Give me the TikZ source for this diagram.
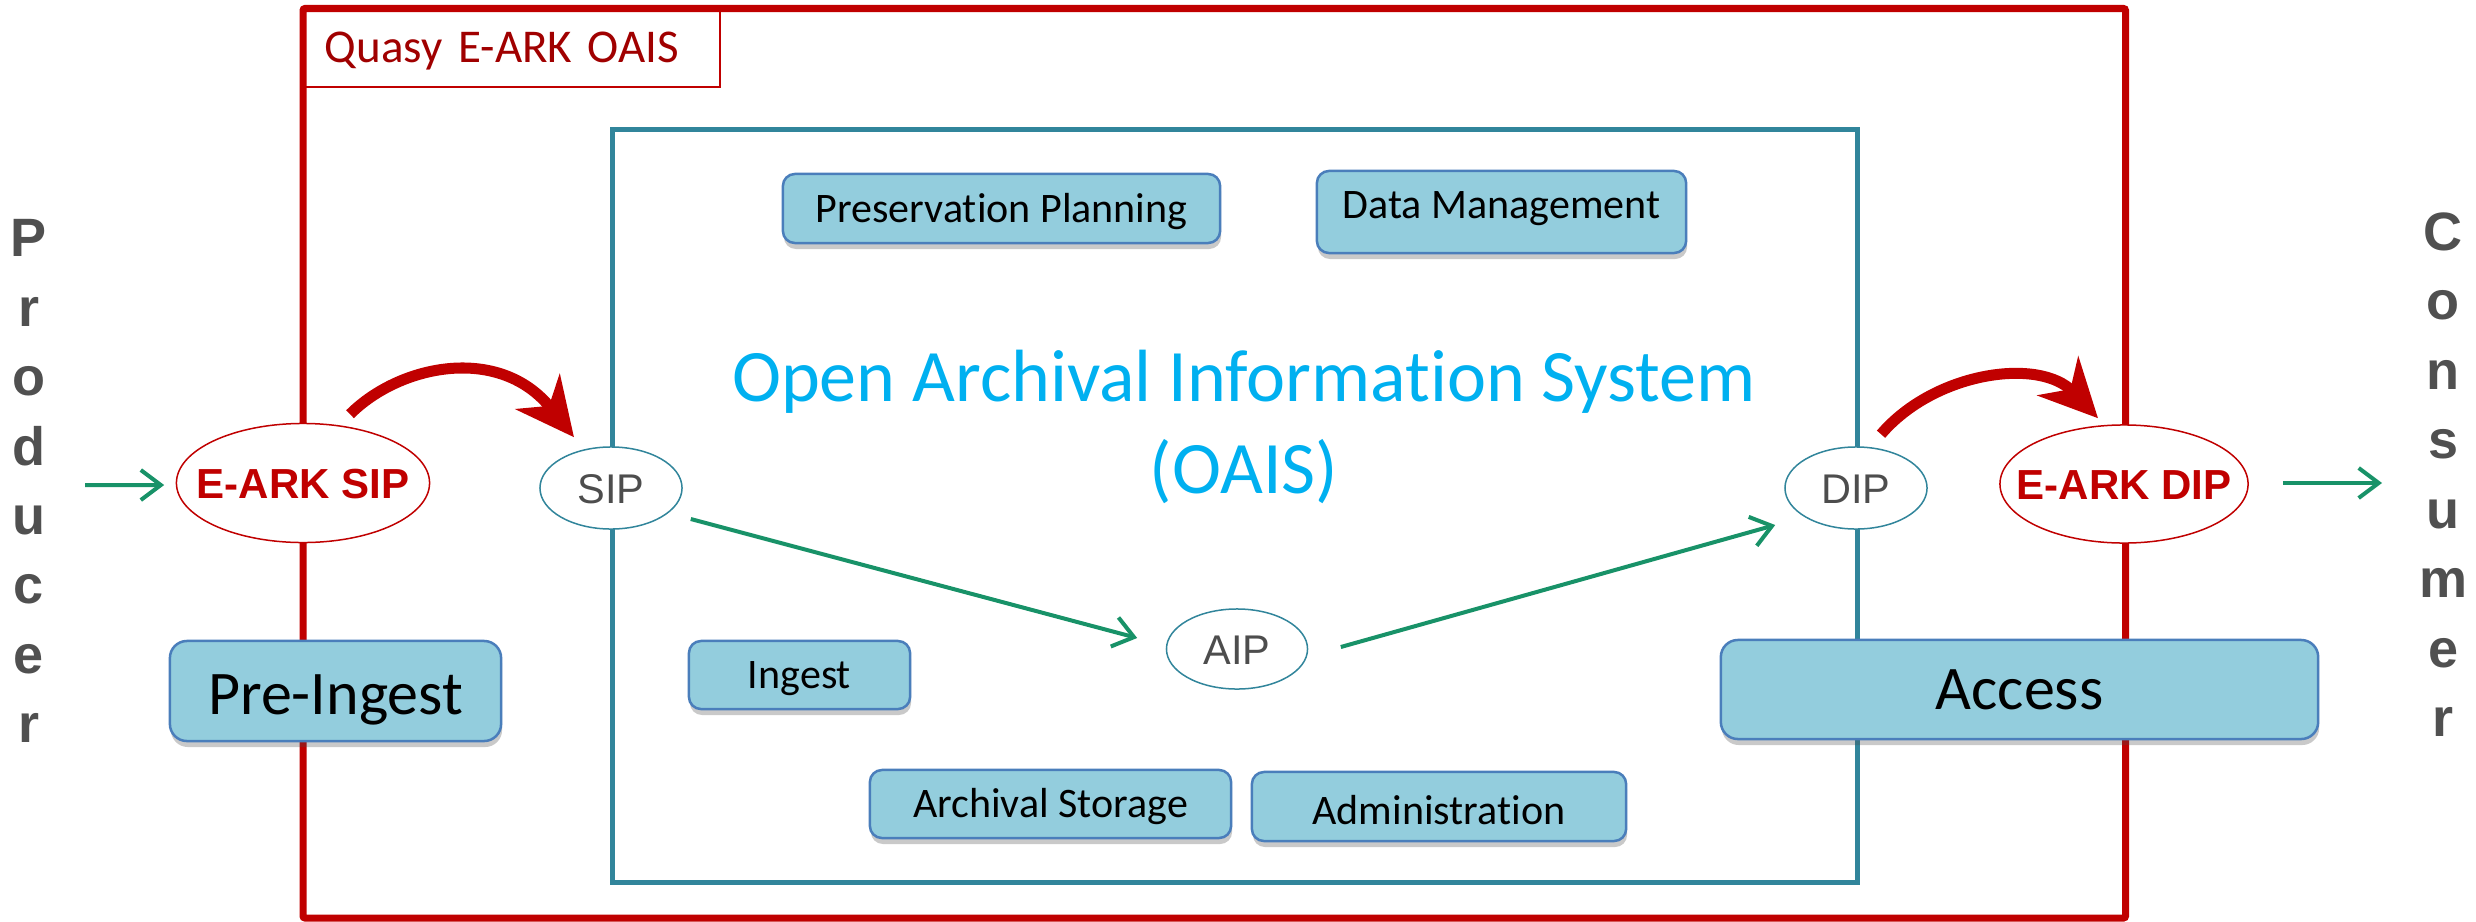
\documentclass[tikz,border=0pt]{standalone}
\usepackage{fontspec}
\setmainfont{Carlito}[Ligatures=NoCommon]
\newfontfamily\arialfont{Liberation Sans}
\usetikzlibrary{shapes.geometric,arrows.meta,shadows}
\definecolor{framered}{RGB}{192,0,0}
\definecolor{labelred}{RGB}{160,0,0}
\definecolor{oaisteal}{RGB}{49,133,155}
\definecolor{flowgreen}{RGB}{24,146,104}
\definecolor{titlecyan}{RGB}{0,176,240}
\definecolor{boxfill}{RGB}{147,205,221}
\definecolor{boxdraw}{RGB}{74,126,187}
\definecolor{pkgtext}{RGB}{77,77,77}
\definecolor{sidetext}{RGB}{80,80,80}
\tikzset{
  fnbox/.style={draw=boxdraw, line width=0.025cm, fill=boxfill, rounded corners=0.12cm, inner sep=0pt,
    drop shadow={shadow xshift=0.01cm, shadow yshift=-0.06cm, opacity=0.3, fill=black!70},
    font=\fontsize{11.95}{14}\selectfont, text=black, text height=0.27cm, text depth=0pt},
  bigbox/.style={fnbox, rounded corners=0.17cm, font=\fontsize{17.64}{21}\selectfont, text height=0.39cm},
  pkg/.style={ellipse, draw=oaisteal, line width=0.015cm, fill=white, inner sep=0pt,
    font=\arialfont\fontsize{11.8}{14}\selectfont, text=pkgtext, text height=0.30cm, text depth=0pt},
  earkpkg/.style={pkg, draw=framered, font=\arialfont\bfseries\fontsize{11.95}{14}\selectfont, text=framered},
  flow/.style={draw=flowgreen, line width=0.04cm, -{Straight Barb[length=0.2cm,width=0.3cm]}},
  convert/.style={draw=framered, line width=0.11cm, -{Stealth[length=0.58cm,width=0.56cm,inset=0.18cm]}},
  sideword/.style={align=center, inner sep=0pt, text=sidetext, font=\arialfont\bfseries\fontsize{15.36}{19.75}\selectfont},
}
\begin{document}
\begin{tikzpicture}[x=0.01cm, y=-0.01cm]
\useasboundingbox (0,0) rectangle (2476,921);
% frames
\draw[framered, line width=0.07cm, rounded corners=0.02cm] (303,8.5) rectangle (2125.5,918);
\draw[oaisteal, line width=0.05cm] (612.5,129.5) rectangle (1857,882);
\node[draw=framered, line width=0.015cm, text width=3.73cm, inner xsep=0.22cm, inner ysep=0pt,
  minimum height=0.785cm, align=left, font=\fontsize{13.37}{16}\selectfont, text=labelred,
  text height=0.30cm, text depth=0pt] (archlabel) at (511.5,47.75) {Quasy E-ARK OAIS};
% title
\node[align=center, inner sep=0pt, text=titlecyan, font=\fontsize{21.05}{26.18}\selectfont]
  (oaistitle) at (1244,427) {Open Archival Information System\\(OAIS)};
% functional boxes
\node[fnbox, minimum width=4.37cm, minimum height=0.69cm] (presplan) at (1001.5,208.5) {Preservation Planning};
\node[fnbox, minimum width=3.69cm, minimum height=0.82cm, text depth=0.15cm] (datamgmt) at (1501.5,212) {Data Management};
\node[fnbox, minimum width=2.21cm, minimum height=0.68cm] (ingest) at (799.5,675) {Ingest};
\node[fnbox, minimum width=3.61cm, minimum height=0.68cm] (archstor) at (1050.5,804) {Archival Storage};
\node[fnbox, minimum width=3.74cm, minimum height=0.69cm, text height=0.36cm] (admin) at (1439,806.5) {Administration};
\node[bigbox, minimum width=3.31cm, minimum height=1.00cm, text height=0.46cm] (preingest) at (335.5,691) {Pre-Ingest};
\node[bigbox, minimum width=5.97cm, minimum height=0.99cm] (access) at (2019.5,689.5) {Access};
% packages
\node[earkpkg, minimum width=2.53cm, minimum height=1.19cm] (earksip) at (303,483) {\makebox[0pt]{E-ARK SIP}};
\node[pkg, minimum width=1.42cm, minimum height=0.82cm] (sip) at (611,488) {\makebox[0pt]{SIP}};
\node[pkg, minimum width=1.41cm, minimum height=0.80cm] (aip) at (1237,649) {\makebox[0pt]{AIP}};
\node[pkg, minimum width=1.42cm, minimum height=0.82cm] (dip) at (1856,488) {\makebox[0pt]{DIP}};
\node[earkpkg, minimum width=2.48cm, minimum height=1.18cm] (earkdip) at (2124,484) {\makebox[0pt]{E-ARK DIP}};
% side words
\node[sideword] (producer) at (29,481.2) {P\\r\\o\\d\\u\\c\\e\\r};
\node[sideword] (consumer) at (2443,474.5) {C\\o\\n\\s\\u\\m\\e\\r};
\coordinate (prodout) at (85,485);
\coordinate (consin) at (2382,483);
% flows
\draw[flow] (prodout) -- ([xshift=-0.115cm,yshift=-0.02cm]earksip.west);
\draw[flow] ([xshift=0.34cm,yshift=0.01cm]earkdip.east) -- (consin);
\draw[flow] ([xshift=0.08cm,yshift=-0.31cm]sip.east) -- ([xshift=-0.285cm,yshift=0.11cm]aip.west);
\draw[flow] ([xshift=0.325cm,yshift=0.02cm]aip.east) -- ([xshift=-0.09cm,yshift=-0.37cm]dip.west);
% conversions
\draw[convert] ([xshift=0.47cm,yshift=0.085cm]earksip.north) .. controls +(50,-50) and +(-74,-93) .. ([xshift=-0.37cm,yshift=0.09cm]sip.north);
\draw[convert] ([xshift=0.25cm,yshift=0.12cm]dip.north) .. controls +(54,-63) and +(-58,-61) .. ([xshift=-0.26cm,yshift=0.06cm]earkdip.north);
\end{tikzpicture}
\end{document}
